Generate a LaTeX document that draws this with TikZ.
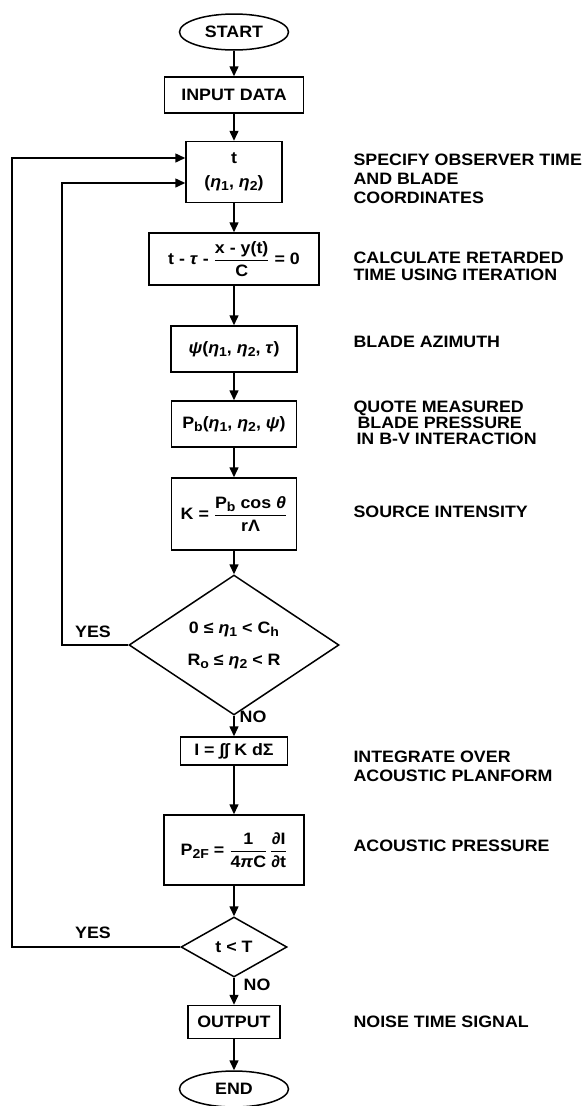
\documentclass[tikz,border=0pt]{standalone}
\usepackage{amsmath}
\usepackage{fontspec}
\setmainfont{Liberation Sans}[FakeStretch=1.08]
\usetikzlibrary{shapes.geometric,arrows.meta}

\newcommand{\gk}[1]{\textit{#1}}
\newcommand{\sbs}[1]{\raisebox{-0.35ex}{\fontsize{13}{13}\selectfont #1}}
\newcommand{\frc}[2]{$\dfrac{\text{#1}}{\text{#2}}$}

\tikzset{
  every node/.style={font=\bfseries\fontsize{16.5}{19}\selectfont},
  box/.style={draw, line width=1.5pt, inner sep=2pt},
  term/.style={ellipse, draw, line width=1.5pt, minimum width=109pt, minimum height=36pt},
  decision/.style={diamond, draw, line width=1.5pt, inner sep=0pt, align=center},
  note/.style={anchor=west, align=left},
  arr/.style={line width=1.5pt, -{Triangle[length=10pt,width=9pt]}}
}

\begin{document}
\begin{tikzpicture}[x=1pt,y=-1pt]
      \useasboundingbox (0,0) rectangle (586,1106);
      \node[term] (start) at (234,32) {START};
      \node[box, minimum width=139pt, minimum height=36pt] (inp) at (234,95) {INPUT DATA};
      \node[box, minimum width=96pt, minimum height=61pt, align=center] (obs) at (234,172) {t\\[5pt](\gk{η}\sbs{1}, \gk{η}\sbs{2})};
      \node[box, minimum width=170pt, minimum height=52pt] (ret) at (234,259) {t - \gk{τ} - \frc{x - y(t)}{C} = 0};
      \node[box, minimum width=126pt, minimum height=46pt] (azi) at (234,349) {\gk{ψ}(\gk{η}\sbs{1}, \gk{η}\sbs{2}, \gk{τ})};
      \node[box, minimum width=125pt, minimum height=46pt] (prs) at (234,424) {P\sbs{b}(\gk{η}\sbs{1}, \gk{η}\sbs{2}, \gk{ψ})};
      \node[box, minimum width=125pt, minimum height=72pt] (src) at (234,514) {K = \frc{P\sbs{b} cos \gk{θ}}{rΛ}};
      \node[decision, minimum width=210pt, minimum height=124pt] (rng) at (234,645) {0 ≤ \gk{η}\sbs{1} < C\sbs{h}\\[13pt]R\sbs{o} ≤ \gk{η}\sbs{2} < R};
      \node[box, minimum width=107pt, minimum height=28pt] (int) at (234,751) {I = ∫∫ K dΣ};
      \node[box, minimum width=140pt, minimum height=70pt] (acp) at (234,850) {P\sbs{2F} = \frc{1}{4\gk{π}C}\,\frc{∂I}{∂t}};
      \node[decision, minimum width=106pt, minimum height=60pt] (chk) at (234,947) {t < T};
      \node[box, minimum width=92pt, minimum height=33pt] (out) at (234,1022) {OUTPUT};
      \node[term] (end) at (234,1089) {END};

      \node[note] (obsnote) at (350,179) {SPECIFY OBSERVER TIME\\AND BLADE\\COORDINATES};
      \node[note] (retnote) at (350,266) {CALCULATE RETARDED\\[-2pt]TIME USING ITERATION};
      \node[note] (azinote) at (350,342) {BLADE AZIMUTH};
      \node[note] (prsnote) at (350,423) {QUOTE MEASURED\\[-3pt]\hspace*{4pt}BLADE PRESSURE\\[-3pt]\hspace*{3pt}IN B-V INTERACTION};
      \node[note] (srcnote) at (350,512) {SOURCE INTENSITY};
      \node[note] (intnote) at (350,766) {INTEGRATE OVER\\ACOUSTIC PLANFORM};
      \node[note] (acpnote) at (350,846) {ACOUSTIC PRESSURE};
      \node[note] (outnote) at (350,1022) {NOISE TIME SIGNAL};

      \node (yes1) at (93,632) {YES};
      \node (yes2) at (93,933) {YES};
      \node (no1) at (253,717) {NO};
      \node (no2) at (257,985) {NO};

      \draw[arr] (start) -- (inp);
      \draw[arr] (inp) -- (obs);
      \draw[arr] (obs) -- (ret);
      \draw[arr] (ret) -- (azi);
      \draw[arr] (azi) -- (prs);
      \draw[arr] (prs) -- (src);
      \draw[arr] (src) -- (rng);
      \draw[arr] (rng) -- (int);
      \draw[arr] (int) -- (acp);
      \draw[arr] (acp) -- (chk);
      \draw[arr] (chk) -- (out);
      \draw[arr] (out) -- (end);

      \coordinate (outer) at (12,158);
      \coordinate (inner) at (62,183);
      \draw[arr] (chk.west) -| (outer) -- ([yshift=14pt]obs.west);
      \draw[arr] (rng.west) -| (inner) -- ([yshift=-11pt]obs.west);
   \end{tikzpicture}
\end{document}
